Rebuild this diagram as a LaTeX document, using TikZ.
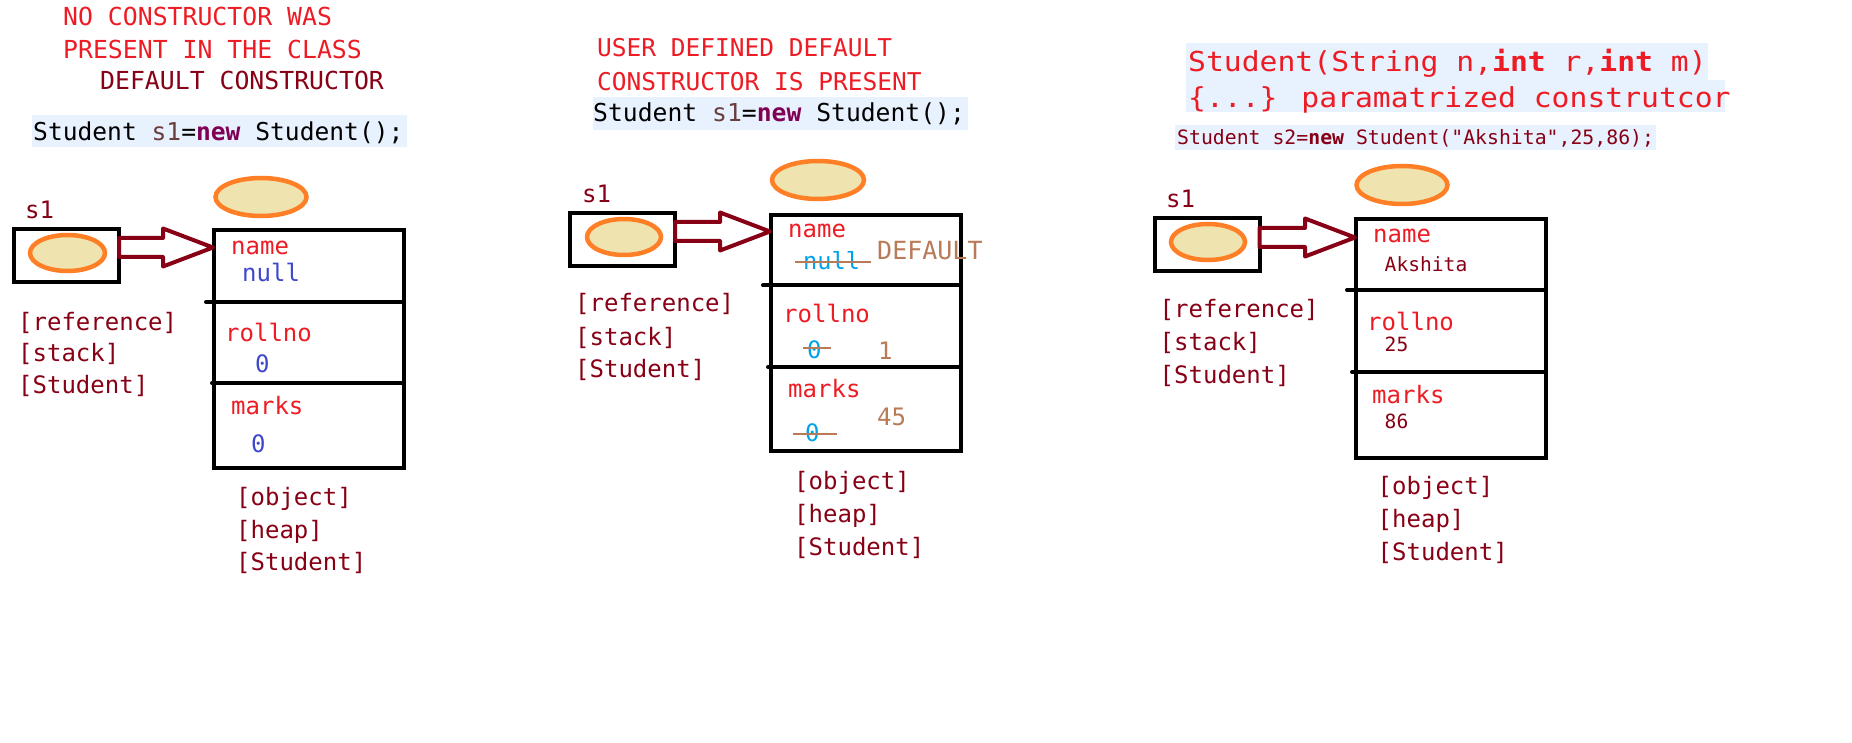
\documentclass[tikz,border=0pt]{standalone}
\usepackage{fontspec}
\usetikzlibrary{shapes.geometric,calc}
\newfontfamily\fb{DejaVu Sans Mono}
\newfontfamily\fc{DejaVu Sans Mono}[FakeStretch=1.08]
\newcommand\fsz[1]{\fontsize{#1}{#1}\selectfont}
\definecolor{pred}{HTML}{ED1C24}
\definecolor{dred}{HTML}{880015}
\definecolor{pblue}{HTML}{3F48CC}
\definecolor{pcyan}{HTML}{00A2E8}
\definecolor{pbrown}{HTML}{B97A57}
\definecolor{porange}{HTML}{FF7F27}
\definecolor{pfill}{HTML}{EFE4B0}
\definecolor{codebg}{HTML}{E8F2FE}
\definecolor{sone}{HTML}{6A3E3E}
\definecolor{kw}{HTML}{7F0055}
\newcommand\blockarr[2]{%
  \draw[barrow] ($(#1)+(0,-9.5)$) -- ($(#2)+(-50,-9.5)$) -- ($(#2)+(-50,-19)$) -- (#2)
    -- ($(#2)+(-50,19)$) -- ($(#2)+(-50,9.5)$) -- ($(#1)+(0,9.5)$) -- cycle;}
\begin{document}
\begin{tikzpicture}[x=1pt,y=-1pt,
  lab/.style={anchor=base west,inner sep=0pt},
  lb/.style={lab,font=\fb\fsz{24}},
  refbox/.style={draw=black,line width=4pt,minimum width=105pt,minimum height=53pt,inner sep=0pt},
  objbox/.style={draw=black,line width=4pt,minimum width=190pt,inner sep=0pt},
  hash/.style={ellipse,draw=porange,fill=pfill,line width=4.5pt,inner sep=0pt},
  divider/.style={line width=4pt,line cap=round},
  barrow/.style={draw=dred,fill=white,line width=4pt,line join=round},
  strike/.style={draw=pbrown,line width=2pt}]
\useasboundingbox (0,0) rectangle (1852,743);
\fill[white] (0,0) rectangle (1852,743);

% ---------------- Panel 1 ----------------
\node[lab,font=\fb\fsz{24.8},text=pred] (h1a) at (63,26) {NO CONSTRUCTOR WAS};
\node[lab,font=\fb\fsz{24.8},text=pred] (h1b) at (63,59) {PRESENT IN THE CLASS};
\node[lab,font=\fb\fsz{24.8},text=dred] (h1c) at (100,90) {DEFAULT CONSTRUCTOR};
\fill[codebg] (32,115) rectangle (407,147);
\node[lab,font=\fb\fsz{24.6},text=black] (c1) at (33,141) {Student \textcolor{sone}{s1}=\textcolor{kw}{\bfseries new} Student();};

\node[hash,minimum width=91pt,minimum height=38pt] (top1) at (261,197) {};
\node[lb,text=dred] (s1a) at (25,219) {s1};
\node[refbox] (rb1) at (66.5,255.5) {};
\node[hash,minimum width=75pt,minimum height=36pt] (in1) at (67.5,253) {};
\node[objbox,minimum height=238pt] (ob1) at (309,349) {};
\draw[divider] (206,302) -- (404,302);
\draw[divider] (212,383) -- (404,383);
\coordinate (t1) at (119,247.5);
\coordinate (p1) at (213,247.5);
\blockarr{t1}{p1}
\node[lb,text=pred] (n1) at (231,255) {name};
\node[lb,text=pblue] (v1a) at (242,282) {null};
\node[lb,text=pred] (r1) at (225,341) {rollno};
\node[lb,text=pblue] (v1b) at (255,372) {0};
\node[lb,text=pred] (m1) at (231,414) {marks};
\node[lb,text=pblue] (v1c) at (251,452) {0};
\node[lb,text=dred] (l1a) at (18,330) {[reference]};
\node[lb,text=dred] (l1b) at (18,361) {[stack]};
\node[lb,text=dred] (l1c) at (18,393) {[Student]};
\node[lb,text=dred] (o1a) at (236,505) {[object]};
\node[lb,text=dred] (o1b) at (236,538) {[heap]};
\node[lb,text=dred] (o1c) at (236,570) {[Student]};

% ---------------- Panel 2 ----------------
\node[lab,font=\fb\fsz{24.5},text=pred] (h2a) at (597,57) {USER DEFINED DEFAULT};
\node[lab,font=\fb\fsz{24.5},text=pred] (h2b) at (597,91) {CONSTRUCTOR IS PRESENT};
\fill[codebg] (593,97) rectangle (968,130);
\node[lab,font=\fb\fsz{24.7},text=black] (c2) at (593,122) {Student \textcolor{sone}{s1}=\textcolor{kw}{\bfseries new} Student();};

\node[hash,minimum width=92pt,minimum height=38pt] (top2) at (818,180) {};
\node[lb,text=dred] (s1b) at (582,203) {s1};
\node[refbox] (rb2) at (622.5,239.5) {};
\node[hash,minimum width=74pt,minimum height=36pt] (in2) at (624,237) {};
\node[objbox,minimum height=236pt] (ob2) at (866,333) {};
\draw[divider] (763,285.5) -- (961,285.5);
\draw[divider] (768,367) -- (961,367);
\coordinate (t2) at (675,231.5);
\coordinate (p2) at (770,231.5);
\blockarr{t2}{p2}
\node[lb,text=pred] (n2) at (788,238) {name};
\node[lab,font=\fb\fsz{23.6},text=pcyan] (v2a) at (803,270) {null};
\draw[strike] (795,262) -- (871,262);
\node[lab,font=\fb\fsz{25},text=pbrown] (d2) at (877,260) {DEFAULT};
\node[lb,text=pred] (r2) at (783,323) {rollno};
\node[lb,text=pcyan] (v2b) at (807,358) {0};
\draw[strike] (803,348) -- (831,348);
\node[lb,text=pbrown] (w2b) at (878,359) {1};
\node[lb,text=pred] (m2) at (788,397) {marks};
\node[lb,text=pbrown] (w2c) at (877,425) {45};
\node[lb,text=pcyan] (v2c) at (805,441) {0};
\draw[strike] (793,434) -- (837,434);
\node[lb,text=dred] (l2a) at (575,312) {[reference]};
\node[lb,text=dred] (l2b) at (575,345) {[stack]};
\node[lb,text=dred] (l2c) at (575,377) {[Student]};
\node[lb,text=dred] (o2a) at (794,489) {[object]};
\node[lb,text=dred] (o2b) at (794,522) {[heap]};
\node[lb,text=dred] (o2c) at (794,555) {[Student]};

% ---------------- Panel 3 ----------------
\fill[codebg] (1186,43) rectangle (1708,80);
\fill[codebg] (1186,80) rectangle (1725,112);
\node[lab,font=\fc\fsz{27.5},text=pred] (h3a) at (1188,72) {Student(String n,\textbf{int} r,\textbf{int} m)};
\node[lab,font=\fc\fsz{27.5},text=pred] (h3b) at (1188,108) {\{...\} paramatrized construtcor};
\fill[codebg] (1175,125) rectangle (1656,150);
\node[lab,font=\fb\fsz{19.8},text=dred] (c3) at (1177,145) {Student s2=\textbf{new} Student("Akshita",25,86);};

\node[hash,minimum width=91pt,minimum height=38pt] (top3) at (1402,185) {};
\node[lb,text=dred] (s1c) at (1166,208) {s1};
\node[refbox] (rb3) at (1207,244.5) {};
\node[hash,minimum width=74pt,minimum height=36pt] (in3) at (1208,242) {};
\node[objbox,minimum height=239pt] (ob3) at (1450.5,338.5) {};
\draw[divider] (1347,290) -- (1545.5,290);
\draw[divider] (1352,372) -- (1545.5,372);
\coordinate (t3) at (1259.5,237.5);
\coordinate (p3) at (1355,237.5);
\blockarr{t3}{p3}
\node[lb,text=pred] (n3) at (1373,243) {name};
\node[lab,font=\fb\fsz{19.6},text=dred] (v3a) at (1384.5,272) {Akshita};
\node[lb,text=pred] (r3) at (1367,330) {rollno};
\node[lab,font=\fb\fsz{19.6},text=dred] (v3b) at (1384.5,351) {25};
\node[lb,text=pred] (m3) at (1372,403) {marks};
\node[lab,font=\fb\fsz{19.6},text=dred] (v3c) at (1384.5,428) {86};
\node[lb,text=dred] (l3a) at (1159.5,317) {[reference]};
\node[lb,text=dred] (l3b) at (1159.5,350) {[stack]};
\node[lb,text=dred] (l3c) at (1159.5,383) {[Student]};
\node[lb,text=dred] (o3a) at (1377.5,494) {[object]};
\node[lb,text=dred] (o3b) at (1377.5,527) {[heap]};
\node[lb,text=dred] (o3c) at (1377.5,560) {[Student]};
\end{tikzpicture}
\end{document}
